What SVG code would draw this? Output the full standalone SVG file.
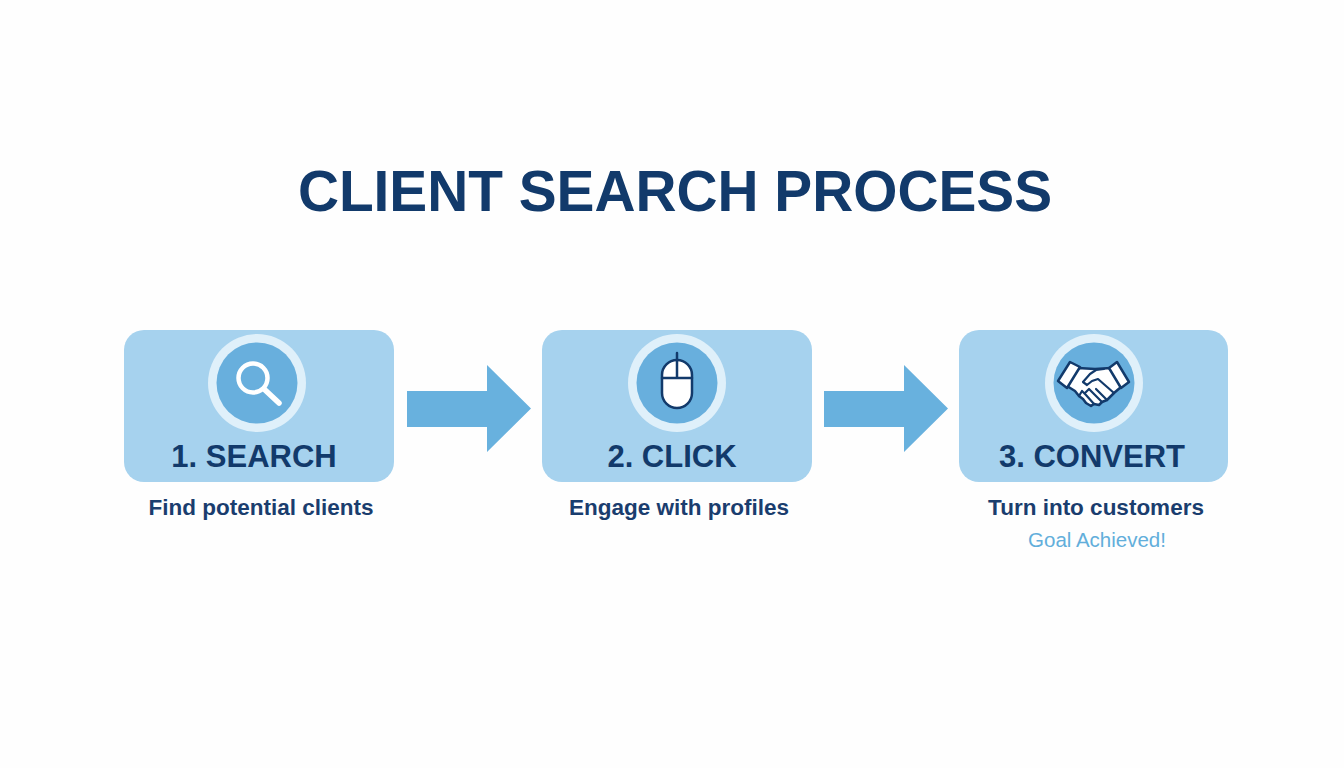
<svg xmlns="http://www.w3.org/2000/svg" width="1344" height="768" viewBox="0 0 1344 768">
<defs>
<style>
text{font-family:"Liberation Sans",Arial,sans-serif;text-anchor:middle}
.card{fill:#a6d2ee}
.ring{fill:#dff0fa}
.disc{fill:#68afdd}
.lab{font-size:31px;font-weight:700;fill:#123a6b}
.sub{font-size:22.5px;font-weight:700;fill:#1a3d6e}
.arr{fill:#68b1de}
.ol{stroke:#123a6b;stroke-width:2.500;stroke-linejoin:round;stroke-linecap:round;fill:#fff}
.ln{stroke:#123a6b;stroke-width:2.200;stroke-linejoin:round;stroke-linecap:round;fill:none}
</style>
</defs>
<rect width="1344" height="768" fill="#fefefe"/>
<text id="title" x="675" y="211" font-size="56.800px" font-weight="700" fill="#123a6b">CLIENT SEARCH PROCESS</text>
<g id="node-search">
<rect class="card" x="124" y="330" width="270" height="152" rx="20"/>
<circle class="ring" cx="257" cy="383" r="49"/>
<circle class="disc" cx="257" cy="383" r="40.500"/>
<circle cx="253" cy="378" r="14.500" fill="none" stroke="#fff" stroke-width="4.500"/>
<path d="M264 389L279 403" fill="none" stroke="#fff" stroke-width="5.500" stroke-linecap="round"/>
<text class="lab" x="254" y="467">1. SEARCH</text>
<text class="sub" x="261" y="515">Find potential clients</text>
</g>
<g id="node-click">
<rect class="card" x="542" y="330" width="270" height="152" rx="20"/>
<circle class="ring" cx="677" cy="383" r="49"/>
<circle class="disc" cx="677" cy="383" r="40.500"/>
<rect class="ol" x="662" y="360" width="30" height="48" rx="15"/>
<path class="ol" d="M662 378H692M677 353V378" fill="none"/>
<text class="lab" x="672" y="467">2. CLICK</text>
<text class="sub" x="679" y="515">Engage with profiles</text>
</g>
<g id="node-convert">
<rect class="card" x="959" y="330" width="269" height="152" rx="20"/>
<circle class="ring" cx="1094" cy="383" r="49"/>
<circle class="disc" cx="1094" cy="383" r="40.500"/>
<path class="ol" d="M1078 368L1095 369L1111 368L1121 387L1114 393L1107 400L1102 402L1099 405L1094 404L1091 406L1086 403L1083 399L1079 396L1075 391L1067 386Z"/>
<path class="ol" d="M1070 362L1080 367L1067 388L1058 381Z"/>
<path class="ol" d="M1117 362L1109 368L1121 388L1129 382Z"/>
<path class="ln" d="M1114 393L1098 379L1092 381L1087 385L1083 382L1090 374L1096 370L1104 369M1107 400L1096 389M1102 402L1092 392M1094 404L1086 395M1079 396L1082 391L1086 395M1085 393L1089 389L1092 392"/>
<text class="lab" x="1092" y="467">3. CONVERT</text>
<text class="sub" x="1096" y="515">Turn into customers</text>
<text x="1097" y="547" font-size="20.500px" fill="#62aedb">Goal Achieved!</text>
</g>
<g id="connectors">
<path class="arr" d="M407 391H487V365L531 408.500L487 452V427H407Z"/>
<path class="arr" d="M824 391H904V365L948 408.500L904 452V427H824Z"/>
</g>
</svg>
